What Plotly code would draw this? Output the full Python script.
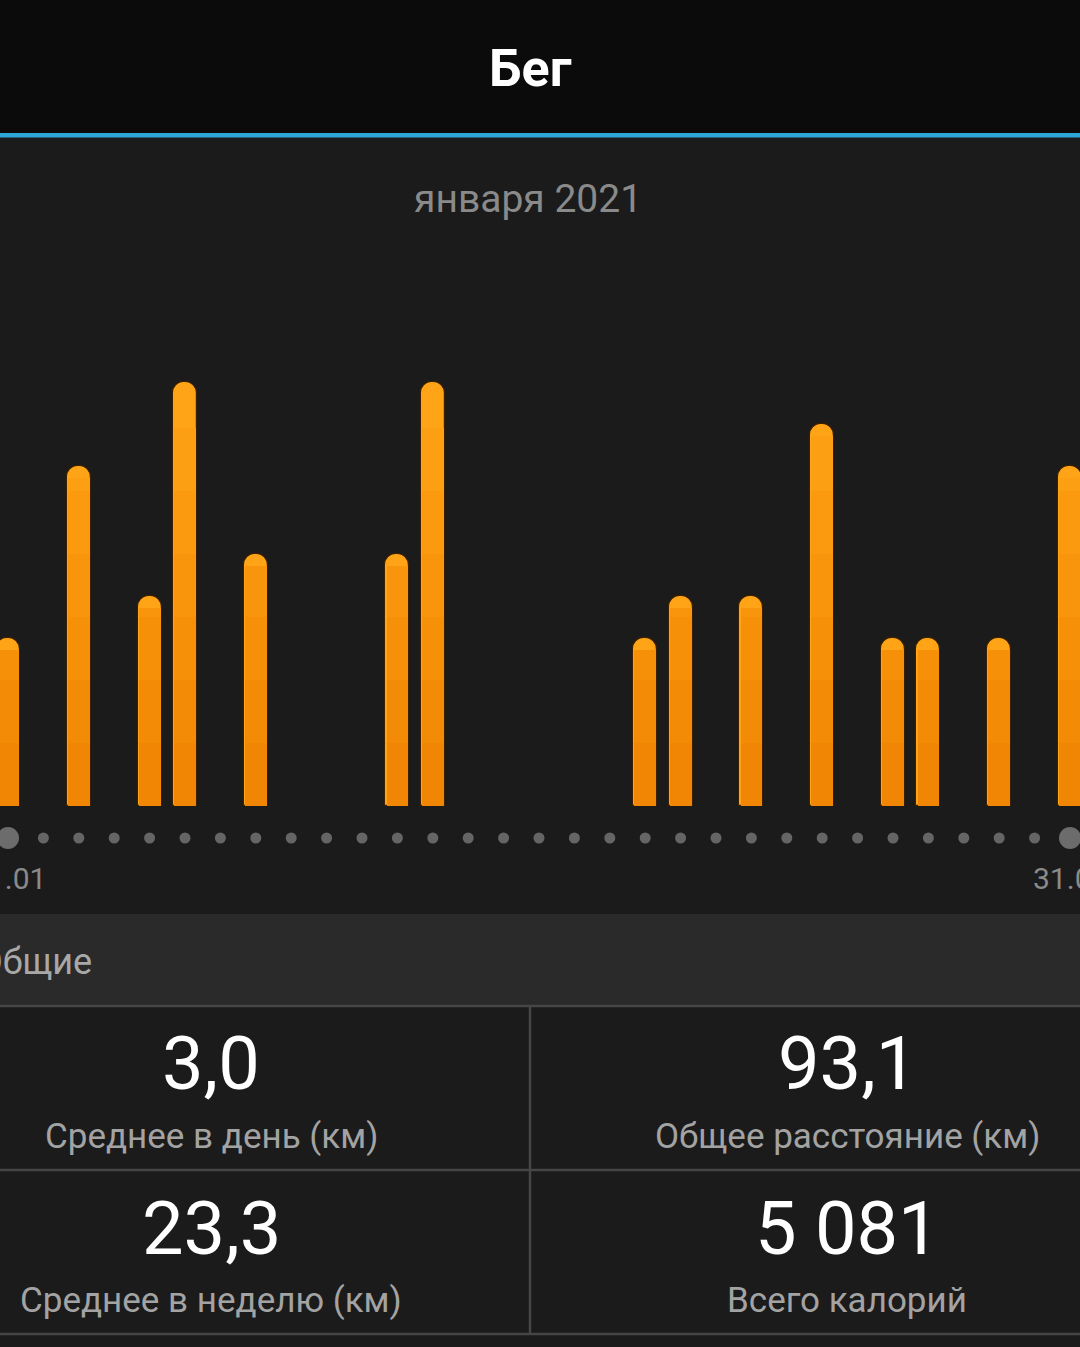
import plotly.graph_objects as go

# ---- data ----
days = list(range(1, 32))
km = [4.0, None, 8.1, None, 5.0, 10.1, None, 6.0, None, None, None, 6.0, 10.1,
      None, None, None, None, None, 4.0, 5.0, None, 5.0, None, 9.1, None, 4.0,
      4.0, None, 4.0, None, 8.1]
title = "Бег"
month_label = "января 2021"
first_label, last_label = "01.01", "31.01"
section = "Общие"
stat_values = ["3,0", "93,1", "23,3", "5 081"]
stat_names = ["Среднее в день (км)", "Общее расстояние (км)",
              "Среднее в неделю (км)", "Всего калорий"]

W, H = 1080, 1347
PX_DAY = 35.4
PX_KM = 42.0
BASE_PX = 806
TOP_PX = 136
AX_BOTTOM_PX = 900
X0_PX = 8


def py(px):
    return 1 - px / H


FONT = "Roboto, 'Noto Sans', sans-serif"

fig = go.Figure()

# gradient-like bars: base layer (light top) + overlaid lower layers (darker)
bar_w = 24 / PX_DAY
fig.add_trace(go.Bar(
    x=days, y=km, width=bar_w,
    marker=dict(color="#ffa416", line=dict(color="#3a2000", width=1.2),
                cornerradius=12),
    hoverinfo="skip", showlegend=False))

r_units = 12 / PX_KM
levels = [9.0, 7.5, 6.0, 4.5, 3.0, 1.5]
cols = ["#fd9f12", "#fb9a0f", "#f9950c", "#f69009", "#f38b06", "#f08603"]
for lev, c in zip(levels, cols):
    ys = [min(v - r_units, lev) if v else None for v in km]
    fig.add_trace(go.Bar(
        x=days, y=ys, width=bar_w - 2.2 / PX_DAY,
        marker=dict(color=c, line=dict(width=0)),
        hoverinfo="skip", showlegend=False))

# day dots
dot_y = -(838 - BASE_PX) / PX_KM
sizes = [22 if d in (1, 31) else 11 for d in days]
colors = ["#8e8e8e" if d in (1, 31) else "#858585" for d in days]
fig.add_trace(go.Scatter(
    x=days, y=[dot_y] * len(days), mode="markers",
    marker=dict(size=sizes, color=colors, line=dict(width=0)),
    hoverinfo="skip", showlegend=False))

shapes = []
# header
shapes.append(dict(type="rect", xref="paper", yref="paper", x0=0, x1=1,
                   y0=py(133), y1=1, fillcolor="#0b0b0b", line=dict(width=0),
                   layer="below"))
shapes.append(dict(type="rect", xref="paper", yref="paper", x0=0, x1=1,
                   y0=py(137.5), y1=py(133), fillcolor="#2fa6d8",
                   line=dict(width=0), layer="below"))
# section header bar
shapes.append(dict(type="rect", xref="paper", yref="paper", x0=0, x1=1,
                   y0=py(1005), y1=py(914), fillcolor="#2a2a2a",
                   line=dict(width=0), layer="below"))
# grid lines
for ypx in (1006, 1170, 1334):
    shapes.append(dict(type="line", xref="paper", yref="paper", x0=0, x1=1,
                       y0=py(ypx), y1=py(ypx),
                       line=dict(color="#464646", width=2.5), layer="below"))
shapes.append(dict(type="line", xref="paper", yref="paper", x0=530 / W,
                   x1=530 / W, y0=py(1334), y1=py(1006),
                   line=dict(color="#464646", width=2.5), layer="below"))

ann = []
ann.append(dict(text=title, x=530 / W, y=py(69), xref="paper", yref="paper",
                showarrow=False, xanchor="center", yanchor="middle",
                font=dict(family=FONT, size=52, color="#ffffff", weight="bold")))
ann.append(dict(text=month_label, x=528 / W, y=py(199), xref="paper",
                yref="paper", showarrow=False, xanchor="center",
                yanchor="middle",
                font=dict(family=FONT, size=39, color="#8a8a8a")))
ann.append(dict(text=first_label, x=1, y=py(878), xref="x", yref="paper",
                showarrow=False, xanchor="center", yanchor="middle",
                font=dict(family=FONT, size=30, color="#8a8a8a")))
ann.append(dict(text=last_label, x=31, y=py(878), xref="x", yref="paper",
                showarrow=False, xanchor="center", yanchor="middle",
                font=dict(family=FONT, size=30, color="#8a8a8a")))
ann.append(dict(text=section, x=-24 / W, y=py(962), xref="paper",
                yref="paper", showarrow=False, xanchor="left",
                yanchor="middle",
                font=dict(family=FONT, size=36, color="#a8a8a8")))

centers_x = [211, 847, 211, 847]
val_y = [1063, 1063, 1228, 1228]
name_y = [1136, 1136, 1300, 1300]
for i in range(4):
    ann.append(dict(text=stat_values[i], x=centers_x[i] / W, y=py(val_y[i]),
                    xref="paper", yref="paper", showarrow=False,
                    xanchor="center", yanchor="middle",
                    font=dict(family=FONT, size=74, color="#ffffff")))
    ann.append(dict(text=stat_names[i], x=centers_x[i] / W, y=py(name_y[i]),
                    xref="paper", yref="paper", showarrow=False,
                    xanchor="center", yanchor="middle",
                    font=dict(family=FONT, size=35, color="#a3a3a3")))

fig.update_layout(
    width=W, height=H, margin=dict(l=0, r=0, t=0, b=0),
    paper_bgcolor="#1b1b1b", plot_bgcolor="rgba(0,0,0,0)",
    barmode="overlay", bargap=0,
    xaxis=dict(range=[1 - X0_PX / PX_DAY, 1 + (W - X0_PX) / PX_DAY],
               visible=False, fixedrange=True),
    yaxis=dict(domain=[py(AX_BOTTOM_PX), py(TOP_PX)],
               range=[-(AX_BOTTOM_PX - BASE_PX) / PX_KM,
                      (BASE_PX - TOP_PX) / PX_KM],
               visible=False, fixedrange=True),
    shapes=shapes, annotations=ann, showlegend=False,
)

fig.write_html(
    "out.html", config={"displayModeBar": False},
    post_script="document.body.style.margin='0';"
                "document.body.style.background='#1b1b1b';"
                "document.body.style.overflow='hidden';")
